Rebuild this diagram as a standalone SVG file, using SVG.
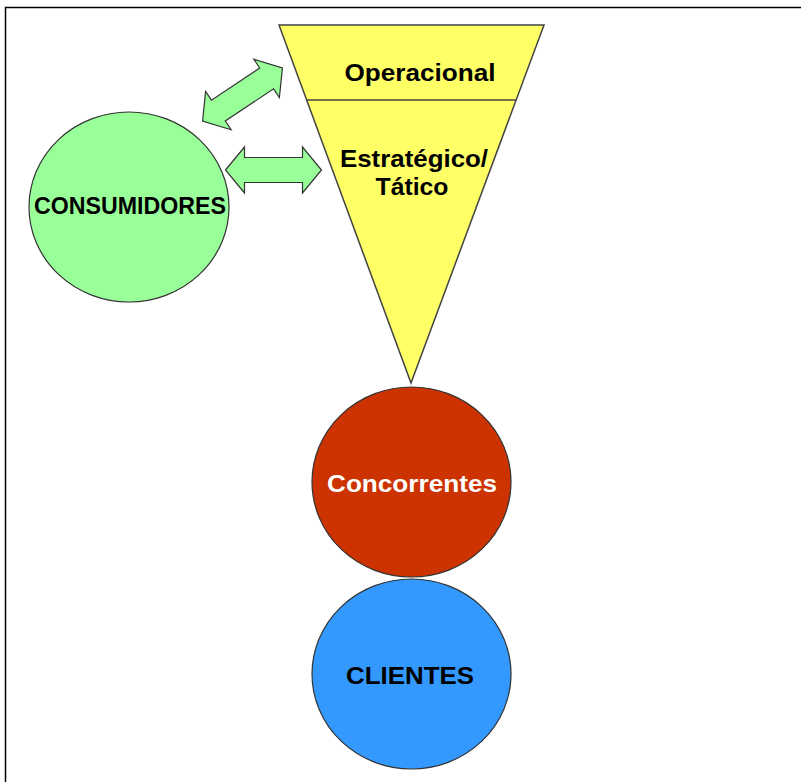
<svg xmlns="http://www.w3.org/2000/svg" width="801" height="782" viewBox="0 0 801 782">
  <style>
    .frame { fill: none; stroke: #000; stroke-width: 1.5; }
    .shape { stroke: #333; stroke-width: 1.2; }
    .funnel { fill: #FFFF66; stroke: #444; stroke-width: 1.5; }
    .green { fill: #99FF99; }
    .red { fill: #CC3300; }
    .blue { fill: #3399FF; }
    .arrow { fill: #99FF99; stroke: #333; stroke-width: 1.2; stroke-linejoin: miter; }
    .lbl { font-family: "Liberation Sans", Arial, sans-serif; font-weight: bold; font-size: 24px; text-anchor: middle; }
  </style>
  <defs>
    <!-- double-headed block arrow, centred on the origin, pointing along x -->
    <polygon id="dbl" points="-48,0 -29,-23 -29,-12.5 29,-12.5 29,-23 48,0 29,23 29,12.5 -29,12.5 -29,23"/>
  </defs>

  <rect class="frame" x="5.5" y="7.5" width="800" height="780"/>

  <g id="connectors">
    <use href="#dbl" class="arrow" transform="translate(242.5,94.5) rotate(-33.7)"/>
    <use href="#dbl" class="arrow" transform="translate(273.5,170)"/>
  </g>

  <g id="funnel">
    <polygon class="funnel" points="279,25 544,25 411,383"/>
    <line x1="307" y1="100" x2="516" y2="100" stroke="#444" stroke-width="1.5"/>
    <text class="lbl" x="420" y="81" textLength="151" lengthAdjust="spacingAndGlyphs">Operacional</text>
    <text class="lbl" x="414" y="167" textLength="148" lengthAdjust="spacingAndGlyphs">Estratégico/</text>
    <text class="lbl" x="412" y="195" textLength="73" lengthAdjust="spacingAndGlyphs">Tático</text>
  </g>

  <g id="consumidores">
    <ellipse class="shape green" cx="129" cy="207" rx="100" ry="95"/>
    <text class="lbl" x="130" y="214" textLength="192" lengthAdjust="spacingAndGlyphs">CONSUMIDORES</text>
  </g>

  <g id="concorrentes">
    <ellipse class="shape red" cx="411.5" cy="482" rx="99.5" ry="95"/>
    <text class="lbl" x="412" y="492" fill="#fff" textLength="170" lengthAdjust="spacingAndGlyphs">Concorrentes</text>
  </g>

  <g id="clientes">
    <ellipse class="shape blue" cx="411.5" cy="674" rx="99.5" ry="95"/>
    <text class="lbl" x="410" y="684" textLength="128" lengthAdjust="spacingAndGlyphs">CLIENTES</text>
  </g>
</svg>
